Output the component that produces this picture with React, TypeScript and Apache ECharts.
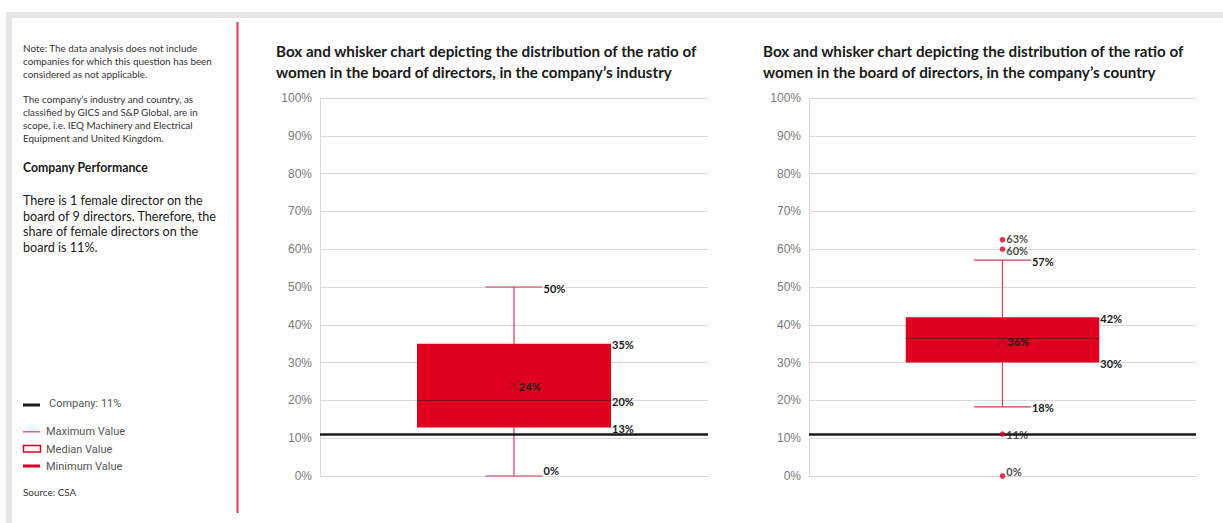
import React, { useEffect, useRef } from "react";
import * as echarts from "echarts";

// ---------- data ----------
const industryTitle = [
  "Box and whisker chart depicting the distribution of the ratio of",
  "women in the board of directors, in the company’s industry",
];
const countryTitle = [
  "Box and whisker chart depicting the distribution of the ratio of",
  "women in the board of directors, in the company’s country",
];
// [min, q1, median, q3, max]
const industryBox = [0, 12.8, 20, 35, 50];
const industryMean = 24;
const industryOutliers: number[] = [];
const countryBox = [18.3, 30, 36.4, 42, 57.1];
const countryMean = 35.8;
const countryOutliers = [62.5, 60, 11.1, 0];
const companyValue = 11.11;
const categories = ["Ratio"];

const noteLines = [
  "Note: The data analysis does not include",
  "companies for which this question has been",
  "considered as not applicable.",
];
const scopeLines = [
  "The company’s industry and country, as",
  "classified by GICS and S&P Global, are in",
  "scope, i.e. IEQ Machinery and Electrical",
  "Equipment and United Kingdom.",
];
const perfTitle = "Company Performance";
const perfLines = [
  "There is 1 female director on the",
  "board of 9 directors. Therefore, the",
  "share of female directors on the",
  "board is 11%.",
];
const legendItems = ["Company: 11%", "Maximum Value", "Median Value", "Minimum Value"];
const sourceText = "Source: CSA";

// ---------- styles ----------
const FAMILY = "Lato, 'Noto Sans', sans-serif";
const LABEL_FONT = "bold 11px " + FAMILY;
const BOX_RED = "#e00020";
const WHISKER_RED = "#d93a50";

const makeRender = (showMedianLabel: boolean) => (params: any, api: any) => {
  const cat = api.value(0);
  const vals = [1, 2, 3, 4, 5, 6].map((i) => api.value(i));
  const pts = vals.map((v) => api.coord([cat, v]));
  const [pMin, pQ1, pMed, pQ3, pMax, pMean] = pts;
  const band = api.size([1, 0])[0];
  const cx = pMed[0];
  const bw = band * 0.5;
  const cw = band * 0.147;
  const left = cx - bw / 2;
  const right = cx + bw / 2;
  const bottom = params.coordSys.y + params.coordSys.height;
  const lbl = (x: number, y: number, v: number) => ({
    type: "text",
    z2: 20,
    style: {
      text: Math.round(v) + "%",
      x,
      y: Math.min(y + 1, bottom - 6),
      align: "left",
      verticalAlign: "middle",
      font: LABEL_FONT,
      fill: "#1a1a1a",
    },
  });
  const ln = (x1: number, y1: number, x2: number, y2: number, stroke: string, w: number, z2 = 5) => ({
    type: "line",
    z2,
    shape: { x1, y1, x2, y2 },
    style: { stroke, lineWidth: w },
  });
  const children: any[] = [
    ln(cx, pQ3[1], cx, pMax[1], WHISKER_RED, 1.2),
    ln(cx, pQ1[1], cx, pMin[1], WHISKER_RED, 1.2),
    ln(cx - cw / 2, pMax[1], cx + cw / 2, pMax[1], WHISKER_RED, 1.2),
    ln(cx - cw / 2, pMin[1], cx + cw / 2, pMin[1], WHISKER_RED, 1.2),
    {
      type: "rect",
      z2: 6,
      shape: { x: left, y: pQ3[1], width: bw, height: pQ1[1] - pQ3[1] },
      style: { fill: BOX_RED },
    },
    ln(left, pMed[1], right, pMed[1], "#7a0a1c", 1, 7),
    ln(cx - 5, pMean[1] - 5, cx + 5, pMean[1] + 5, "#9a0a20", 1, 7),
    ln(cx - 5, pMean[1] + 5, cx + 5, pMean[1] - 5, "#9a0a20", 1, 7),
    lbl(cx + cw / 2 + 1, pMax[1], vals[4]),
    lbl(right + 1, pQ3[1], vals[3]),
    lbl(right + 1, pQ1[1], vals[1]),
    lbl(cx + cw / 2 + 1, pMin[1], vals[0]),
    lbl(cx + 5, pMean[1], vals[5]),
  ];
  if (showMedianLabel) children.push(lbl(right + 1, pMed[1], vals[2]));
  return { type: "group", children };
};

function App() {
  const ref = useRef<HTMLDivElement>(null);
  useEffect(() => {
    if (!ref.current) return;
    const chart = echarts.init(ref.current, undefined, { renderer: "svg" });

    const gridDefs = [
      { left: 320, top: 98, width: 388, height: 378 },
      { left: 809, top: 98, width: 387, height: 378 },
    ];
    const yAxisDef = (gi: number) => ({
      type: "value",
      gridIndex: gi,
      min: 0,
      max: 100,
      interval: 10,
      axisLine: { show: true, lineStyle: { color: "#d9d9d9" } },
      axisTick: { show: false },
      splitLine: { show: true, lineStyle: { color: "#d9d9d9", width: 1 } },
      axisLabel: {
        formatter: "{value}%",
        color: "#7a7a7a",
        fontFamily: "'Liberation Sans', Arial, sans-serif",
        fontSize: 12,
        margin: 8,
      },
    });
    const xAxisDef = (gi: number) => ({
      type: "category",
      gridIndex: gi,
      data: categories,
      axisLine: { show: true, lineStyle: { color: "#d9d9d9" } },
      axisTick: { show: false },
      axisLabel: { show: false },
    });

    const boxSeries = (gi: number, box: number[], mean: number, showMed: boolean) => ({
      type: "custom",
      xAxisIndex: gi,
      yAxisIndex: gi,
      clip: false,
      silent: true,
      renderItem: makeRender(showMed),
      encode: { x: 0, y: [1, 2, 3, 4, 5, 6] },
      data: [[0, ...box, mean]],
      z: 2,
      markLine: {
        silent: true,
        symbol: "none",
        label: { show: false },
        lineStyle: { color: "#1a1a1a", width: 2.5, type: "solid" },
        data: [{ yAxis: companyValue }],
        z: 3,
      },
    });
    const outlierSeries = (gi: number, outs: number[]) => ({
      type: "scatter",
      xAxisIndex: gi,
      yAxisIndex: gi,
      silent: true,
      z: 5,
      symbolSize: 5.5,
      itemStyle: { color: BOX_RED },
      label: {
        show: true,
        position: "right",
        distance: 1,
        formatter: (p: any) => Math.round(p.value[1]) + "%",
        fontFamily: FAMILY,
        fontWeight: "bold",
        fontSize: 11,
        color: "#1a1a1a",
      },
      data: outs.map((v) => {
        // keep labels of near-coincident points or points at the floor readable
        const above = outs.some((o) => o > v && o - v < 3);
        const below = outs.some((o) => o < v && v - o < 3);
        const dy = v < 3 ? -5 : above ? 1 : below ? -1 : 0;
        return dy ? { value: [0, v], label: { offset: [0, dy] } } : { value: [0, v] };
      }),
    });

    const textEl = (x: number, y: number, lines: string[], font: string, lh: number, fill: string) => ({
      type: "text",
      x,
      y,
      style: {
        text: lines.join("\n"),
        font,
        lineHeight: lh,
        fill,
        align: "left",
        verticalAlign: "top",
      },
    });
    const legendFont = "11px Roboto, sans-serif";

    const graphics: any[] = [
      { type: "rect", shape: { x: 6, y: 12, width: 1217, height: 6 }, style: { fill: "#e6e6e6" } },
      { type: "rect", shape: { x: 6, y: 12, width: 6, height: 511 }, style: { fill: "#e6e6e6" } },
      { type: "rect", shape: { x: 236.5, y: 22, width: 2, height: 491 }, style: { fill: "#e23a52" } },
      textEl(23, 41.8, noteLines, "9.9px " + FAMILY, 12.9, "#333333"),
      textEl(23, 92.8, scopeLines, "9.9px " + FAMILY, 13, "#333333"),
      textEl(23, 160.7, [perfTitle], "bold 12.3px " + FAMILY, 14, "#1a1a1a"),
      textEl(23, 192.9, perfLines, "12.6px " + FAMILY, 15.6, "#1a1a1a"),
      textEl(276, 40.2, industryTitle, "bold 15.2px " + FAMILY, 21, "#1a1a1a"),
      textEl(763, 40.2, countryTitle, "bold 15.2px " + FAMILY, 21, "#1a1a1a"),
      // legend
      { type: "rect", shape: { x: 23, y: 403.5, width: 17, height: 3 }, style: { fill: "#1a1a1a" } },
      { type: "text", style: { text: legendItems[0], x: 49, y: 403.5, font: legendFont, fill: "#555555", verticalAlign: "middle" } },
      { type: "rect", shape: { x: 23, y: 431.2, width: 17, height: 1.2 }, style: { fill: "#e23a52" } },
      { type: "text", style: { text: legendItems[1], x: 46, y: 431.7, font: legendFont, fill: "#555555", verticalAlign: "middle" } },
      { type: "rect", shape: { x: 23.5, y: 445.5, width: 17, height: 6.5 }, style: { fill: "#ffffff", stroke: BOX_RED, lineWidth: 1.5 } },
      { type: "text", style: { text: legendItems[2], x: 46, y: 449, font: legendFont, fill: "#555555", verticalAlign: "middle" } },
      { type: "rect", shape: { x: 23, y: 464.5, width: 17, height: 3 }, style: { fill: BOX_RED } },
      { type: "text", style: { text: legendItems[3], x: 46, y: 466, font: legendFont, fill: "#555555", verticalAlign: "middle" } },
      { type: "text", style: { text: sourceText, x: 23, y: 491.7, font: "9.9px " + FAMILY, fill: "#333333", verticalAlign: "middle" } },
    ];

    chart.setOption({
      animation: false,
      backgroundColor: "#ffffff",
      grid: gridDefs,
      xAxis: [xAxisDef(0), xAxisDef(1)],
      yAxis: [yAxisDef(0), yAxisDef(1)],
      series: [
        boxSeries(0, industryBox, industryMean, true),
        outlierSeries(0, industryOutliers),
        boxSeries(1, countryBox, countryMean, false),
        outlierSeries(1, countryOutliers),
      ],
      graphic: graphics,
    });
    return () => chart.dispose();
  }, []);
  return (
    <div
      ref={ref}
      style={{ position: "fixed", left: 0, top: 0, width: 1223, height: 523 }}
    />
  );
}

export default App;
